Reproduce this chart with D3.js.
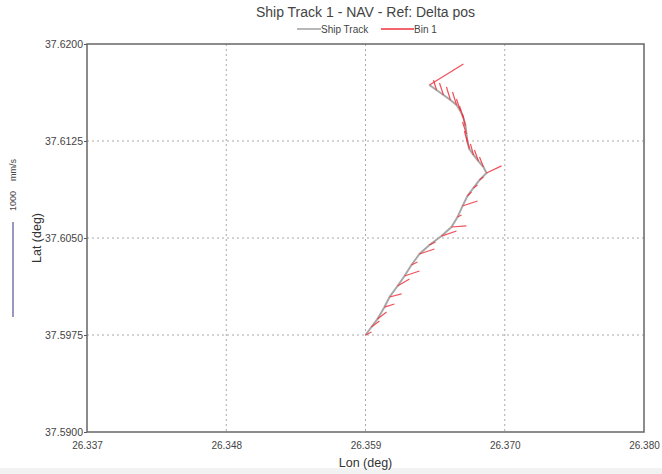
<!DOCTYPE html>
<html>
<head>
<meta charset="utf-8">
<script src="https://cdn.jsdelivr.net/npm/d3@7/dist/d3.min.js"></script>
<style>
  html, body { margin: 0; padding: 0; background: #fff; }
  svg { display: block; font-family: "Liberation Sans", Arial, sans-serif; }
</style>
</head>
<body>
<svg id="chart" width="662" height="474"></svg>
<script>
// ---- Data ----
const title = "Ship Track 1 - NAV - Ref: Delta pos";
const xTickValues = [26.337, 26.348, 26.359, 26.370, 26.381];
const xTickLabels = ["26.337", "26.348", "26.359", "26.370", "26.380"];
const yTickValues = [37.5900, 37.5975, 37.6050, 37.6125, 37.6200];
const yTickLabels = ["37.5900", "37.5975", "37.6050", "37.6125", "37.6200"];

const trackLon = [26.35900, 26.35947, 26.35995, 26.36050, 26.36090, 26.36153, 26.36208, 26.36263,
  26.36326, 26.36405, 26.36500, 26.36579, 26.36627, 26.36666, 26.36705, 26.36753, 26.36800, 26.36856,
  26.36832, 26.36792, 26.36753, 26.36721, 26.36705, 26.36698, 26.36690, 26.36674, 26.36650, 26.36619,
  26.36571, 26.36516, 26.36461, 26.36405];
const trackLat = [37.59750, 37.59812, 37.59874, 37.59966, 37.60044, 37.60129, 37.60206, 37.60291,
  37.60376, 37.60446, 37.60515, 37.60585, 37.60662, 37.60747, 37.60825, 37.60887, 37.60948, 37.61003,
  37.61049, 37.61095, 37.61142, 37.61188, 37.61242, 37.61304, 37.61366, 37.61428, 37.61482, 37.61528,
  37.61567, 37.61606, 37.61644, 37.61683];
// Bin 1 velocity (mm/s), east and north components
const velEast = [63, 84, 95, 105, 126, 126, 158, 63, 158, 63, 158, 158, 42, 158, 42, 42, 42, 158,
  -42, -42, -32, -32, -32, -42, -32, -42, -42, -42, -42, -42, -32, 358];
const velNorth = [32, 63, 74, 32, 32, 74, 53, 32, 53, 32, 53, 11, 21, 53, 42, 32, 32, 74,
  105, 116, 116, 126, 116, 126, 126, 126, 126, 137, 137, 126, 105, 221];
const scaleBarValue = 1000; // mm/s

// ---- Layout ----
const svg = d3.select("#chart");
const W = 662, H = 474;
const m = { left: 87, right: 18, top: 44, bottom: 42 };
const pw = W - m.left - m.right, ph = H - m.top - m.bottom;

svg.append("rect").attr("width", W).attr("height", H).attr("fill", "#fff");
svg.append("rect").attr("x", 0).attr("y", 468).attr("width", W).attr("height", 6).attr("fill", "#f2f2f2");

const x = d3.scaleLinear().domain([26.337, 26.381]).range([m.left, m.left + pw]);
const y = d3.scaleLinear().domain([37.5900, 37.6200]).range([m.top + ph, m.top]);
const vel = d3.scaleLinear().domain([0, 1000]).range([0, 95]);

// grid
const grid = svg.append("g");
grid.selectAll("line.gx").data(xTickValues.slice(1, -1)).join("line")
  .attr("x1", d => x(d)).attr("x2", d => x(d))
  .attr("y1", m.top).attr("y2", m.top + ph)
  .attr("stroke", "#a8a8a8").attr("stroke-width", 1).attr("stroke-dasharray", "2,3");
grid.selectAll("line.gy").data(yTickValues.slice(1, -1)).join("line")
  .attr("y1", d => y(d)).attr("y2", d => y(d))
  .attr("x1", m.left).attr("x2", m.left + pw)
  .attr("stroke", "#a8a8a8").attr("stroke-width", 1).attr("stroke-dasharray", "2,3");

// axes
const xAxis = d3.axisBottom(x).tickValues(xTickValues).tickSize(0).tickPadding(10)
  .tickFormat((d, i) => xTickLabels[i]);
const gx = svg.append("g").attr("transform", `translate(0,${m.top + ph})`).call(xAxis);
gx.select(".domain").remove();
gx.selectAll("text").attr("font-size", 10).attr("fill", "#444")
  .attr("font-family", "'Liberation Sans', Arial, sans-serif");

const yAxis = d3.axisLeft(y).tickValues(yTickValues).tickSize(3).tickPadding(1)
  .tickFormat((d, i) => yTickLabels[i]);
const gy = svg.append("g").attr("transform", `translate(${m.left},0)`).call(yAxis);
gy.select(".domain").remove();
gy.selectAll("line").attr("stroke", "#555");
gy.selectAll("text").attr("font-size", 10.5).attr("fill", "#444")
  .attr("font-family", "'Liberation Sans', Arial, sans-serif");

// border
svg.append("rect").attr("x", m.left).attr("y", m.top).attr("width", pw).attr("height", ph)
  .attr("fill", "none").attr("stroke", "#666").attr("stroke-width", 1.5);

// track
const pts = trackLon.map((lon, i) => ({ lon, lat: trackLat[i], u: velEast[i], v: velNorth[i] }));
svg.append("path").datum(pts)
  .attr("d", d3.line().x(d => x(d.lon)).y(d => y(d.lat)))
  .attr("fill", "none").attr("stroke", "#a8a8a8").attr("stroke-width", 2);

// velocity sticks
svg.append("g").selectAll("line").data(pts).join("line")
  .attr("x1", d => x(d.lon)).attr("y1", d => y(d.lat))
  .attr("x2", d => x(d.lon) + vel(d.u)).attr("y2", d => y(d.lat) - vel(d.v))
  .attr("stroke", "#f0303c").attr("stroke-width", 1.2).attr("stroke-opacity", 0.85);

// title
svg.append("text").attr("x", m.left + pw / 2).attr("y", 17).attr("text-anchor", "middle")
  .attr("font-size", 14).attr("fill", "#444").text(title);

// legend
const lg = svg.append("g").attr("font-size", 10).attr("fill", "#444");
lg.append("line").attr("x1", 297).attr("x2", 321).attr("y1", 29).attr("y2", 29)
  .attr("stroke", "#a0a0a0").attr("stroke-width", 1.5);
lg.append("text").attr("x", 321).attr("y", 32.5).text("Ship Track");
lg.append("line").attr("x1", 381).attr("x2", 414).attr("y1", 29).attr("y2", 29)
  .attr("stroke", "#f0303c").attr("stroke-width", 1.5);
lg.append("text").attr("x", 414).attr("y", 32.5).text("Bin 1");

// axis titles
svg.append("text").attr("x", m.left + pw / 2).attr("y", 467).attr("text-anchor", "middle")
  .attr("font-size", 12.5).attr("fill", "#333").text("Lon (deg)");
svg.append("text").attr("transform", "translate(41,238) rotate(-90)").attr("text-anchor", "middle")
  .attr("font-size", 12.5).attr("fill", "#333").text("Lat (deg)");

// velocity scale bar
const barY0 = 317;
svg.append("line").attr("x1", 13).attr("x2", 13).attr("y1", barY0).attr("y2", barY0 - vel(scaleBarValue))
  .attr("stroke", "#7777aa").attr("stroke-width", 1.5);
svg.append("text").attr("transform", "translate(16,185) rotate(-90)").attr("text-anchor", "middle")
  .attr("font-size", 9).attr("fill", "#444").attr("xml:space", "preserve").text(scaleBarValue + "    mm/s");
</script>
</body>
</html>
